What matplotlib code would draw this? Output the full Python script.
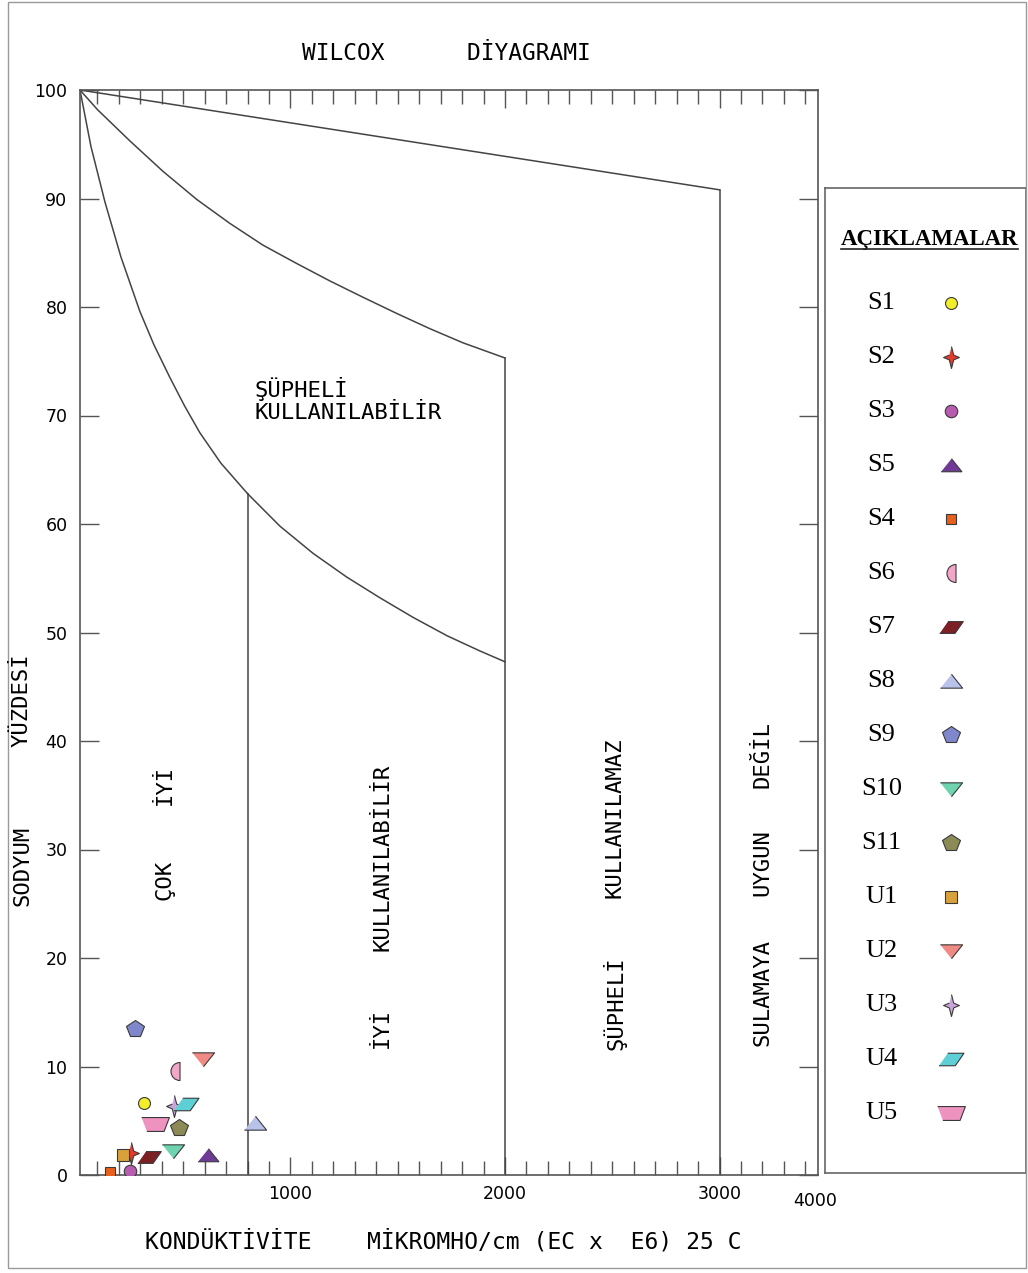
import numpy as np
import matplotlib
matplotlib.use('Agg')
import matplotlib.pyplot as plt
from matplotlib.path import Path
from matplotlib.patches import Rectangle
from matplotlib.lines import Line2D

W, H = 1028, 1273

# samples in legend order: EC (micromho/cm) and sodium percent
names = ['S1', 'S2', 'S3', 'S5', 'S4', 'S6', 'S7', 'S8', 'S9', 'S10', 'S11',
         'U1', 'U2', 'U3', 'U4', 'U5']
ec = [317, 256, 252, 615, 159, 462, 340, 834, 275, 452, 480, 219, 592, 457, 513, 368]
na = [6.6, 2.0, 0.4, 1.8, 0.3, 9.6, 1.7, 4.8, 13.5, 2.2, 4.3, 1.8, 10.7, 6.4, 6.5, 4.7]
shapes = ['circle', 'star', 'circle', 'tri_up', 'square', 'half', 'para', 'tri_up',
          'pent', 'tri_down', 'pent', 'square', 'tri_down', 'star', 'para', 'trap']
colors = ['#f2ee2a', '#e23b2e', '#b85cb0', '#6f3a96', '#e8601c', '#f2a6c8', '#7b2024',
          '#b9c3ea', '#7f88cc', '#6fd3b0', '#8c8a55', '#d9a13a', '#f08a84', '#c8a6da',
          '#5fcfd6', '#ee93c0']
sizes = [8.6, 15.8, 9, 15, 7.2, 13, 17, 16, 13, 16, 13, 8, 16, 15.8, 18, 20]

# class boundaries of the Wilcox diagram
curve_a_x = [19, 70, 135, 210, 298, 364, 438, 506, 578, 676, 800]
curve_a_y = [100, 94.8, 89.7, 84.6, 79.6, 76.5, 73.5, 70.9, 68.4, 65.6, 62.8]
curve_b_x = [19, 100, 252, 406, 564, 718, 872, 1030, 1184, 1338, 1496, 1650, 1804, 2000]
curve_b_y = [100, 98.2, 95.3, 92.5, 89.9, 87.7, 85.7, 84.0, 82.4, 80.9, 79.4, 78.0, 76.7, 75.3]
curve_c_x = [800, 951, 1105, 1263, 1417, 1571, 1730, 1883, 2000]
curve_c_y = [62.8, 59.8, 57.3, 55.1, 53.2, 51.4, 49.7, 48.3, 47.3]
curve_d_x = [19, 3000]
curve_d_y = [100, 90.8]

star4 = [(0, 1), (0.2, 0.22), (0.72, 0), (0.2, -0.22), (0, -1), (-0.2, -0.22),
         (-0.72, 0), (-0.2, 0.22)]
wedge = Path.wedge(90, 270)
markers = {
    'circle': 'o',
    'square': 's',
    'pent': 'p',
    'star': star4,
    'tri_up': [(-1, -0.6), (1, -0.6), (0, 0.65)],
    'tri_down': [(-1, 0.6), (1, 0.6), (0, -0.65)],
    'para': [(-1, -0.5), (0.3, -0.5), (1, 0.5), (-0.3, 0.5)],
    'trap': [(-1, 0.5), (1, 0.5), (0.62, -0.5), (-0.62, -0.5)],
    'half': Path(wedge.vertices + np.array([0.5, 0.0]), wedge.codes),
}

def px(x, y):
    return x / W, 1 - y / H

mono = 'DejaVu Sans Mono'
lc = '#444444'

fig = plt.figure(figsize=(W / 100., H / 100.), dpi=100)
fig.patches.append(Rectangle(px(8, 1268), (1026 - 8) / W, (1268 - 2) / H,
                             transform=fig.transFigure, fill=False, ec='#999999', lw=1))

l, b = px(80, 1175)
ax = fig.add_axes([l, b, (818 - 80) / W, (1175 - 90) / H])
ax.set_xlim(19, 3459)
ax.set_ylim(0, 100)

for xs, ys in [(curve_a_x, curve_a_y), (curve_b_x, curve_b_y),
               (curve_c_x, curve_c_y), (curve_d_x, curve_d_y)]:
    ax.plot(xs, ys, color=lc, lw=1.1, solid_joinstyle='round')
for xv, top in [(800, curve_a_y[-1]), (2000, curve_b_y[-1]), (3000, curve_d_y[-1])]:
    ax.plot([xv, xv], [0, top], color=lc, lw=1.1)

for i in range(len(names)):
    ax.plot(ec[i], na[i], ls='none', marker=markers[shapes[i]], ms=sizes[i],
            mfc=colors[i], mec='#3a3a3a', mew=0.8, zorder=5)

for s in ax.spines.values():
    s.set_color('#555555')
    s.set_linewidth(1.2)
ax.set_xticks([1000, 2000, 3000])
ax.set_xticks(np.arange(100, 3500, 100), minor=True)
ax.set_yticks(np.arange(0, 101, 10))
ax.tick_params(axis='x', which='both', direction='in', top=True, bottom=True,
               color='#555555', width=1)
ax.tick_params(axis='x', which='major', length=13, labelsize=12.5, pad=7)
ax.tick_params(axis='x', which='minor', length=10)
ax.tick_params(axis='y', direction='in', left=True, right=True, length=14,
               color='#555555', width=1, labelsize=12.5, pad=9)
ax.text((815 - 80) / 738., -0.024, '4000', transform=ax.transAxes, ha='center',
        va='center', fontsize=12.5)

# zone labels
tsize = 16
fig.text(*px(302, 53), 'WILCOX      DİYAGRAMI', family=mono, fontsize=16.5,
         ha='left', va='center')
fig.text(*px(255, 389), 'ŞÜPHELİ', family=mono, fontsize=tsize, ha='left', va='center')
fig.text(*px(255, 413), 'KULLANILABİLİR', family=mono, fontsize=tsize, ha='left', va='center')
fig.text(*px(145, 1242), 'KONDÜKTİVİTE    MİKROMHO/cm (EC x  E6) 25 C', family=mono,
         fontsize=16.6, ha='left', va='center')
vlabels = [(22, 866, 'SODYUM'), (22, 700, 'YÜZDESİ'),
           (165, 880, 'ÇOK'), (165, 785, 'İYİ'),
           (382, 857, 'KULLANILABİLİR'), (382, 1028, 'İYİ'),
           (614, 818, 'KULLANILAMAZ'), (614, 1003, 'ŞÜPHELİ'),
           (762, 755, 'DEĞİL'), (762, 863, 'UYGUN'), (762, 993, 'SULAMAYA')]
for x, y, t in vlabels:
    fig.text(*px(x, y), t, family=mono, fontsize=tsize, rotation=90,
             ha='center', va='center')

# legend panel
l2, b2 = px(825, 1173)
lax = fig.add_axes([l2, b2, (1026 - 825) / W, (1173 - 188) / H])
step = 54.
lax.set_xlim(0, 1)
lax.set_ylim((1173 - 303) / step, (188 - 303) / step)
lax.set_xticks([])
lax.set_yticks([])
for s in lax.spines.values():
    s.set_color('#666666')
    s.set_linewidth(1.2)
ttl = lax.text(0.52, (240 - 303) / step, 'AÇIKLAMALAR', family='Liberation Serif',
               fontweight='bold', fontsize=16.5, ha='center', va='center')
for i in range(len(names)):
    lax.text(0.28, i, names[i], family='Liberation Serif', fontsize=19,
             ha='center', va='center')
    lax.plot(0.627, i, ls='none', marker=markers[shapes[i]], ms=sizes[i],
             mfc=colors[i], mec='#3a3a3a', mew=0.8)

fig.canvas.draw()
bb = ttl.get_window_extent().transformed(fig.transFigure.inverted())
fig.lines.append(Line2D([bb.x0, bb.x1], [bb.y0 + 0.001, bb.y0 + 0.001],
                        transform=fig.transFigure, color='#222222', lw=1.2))

fig.savefig('out.png', dpi=100)
